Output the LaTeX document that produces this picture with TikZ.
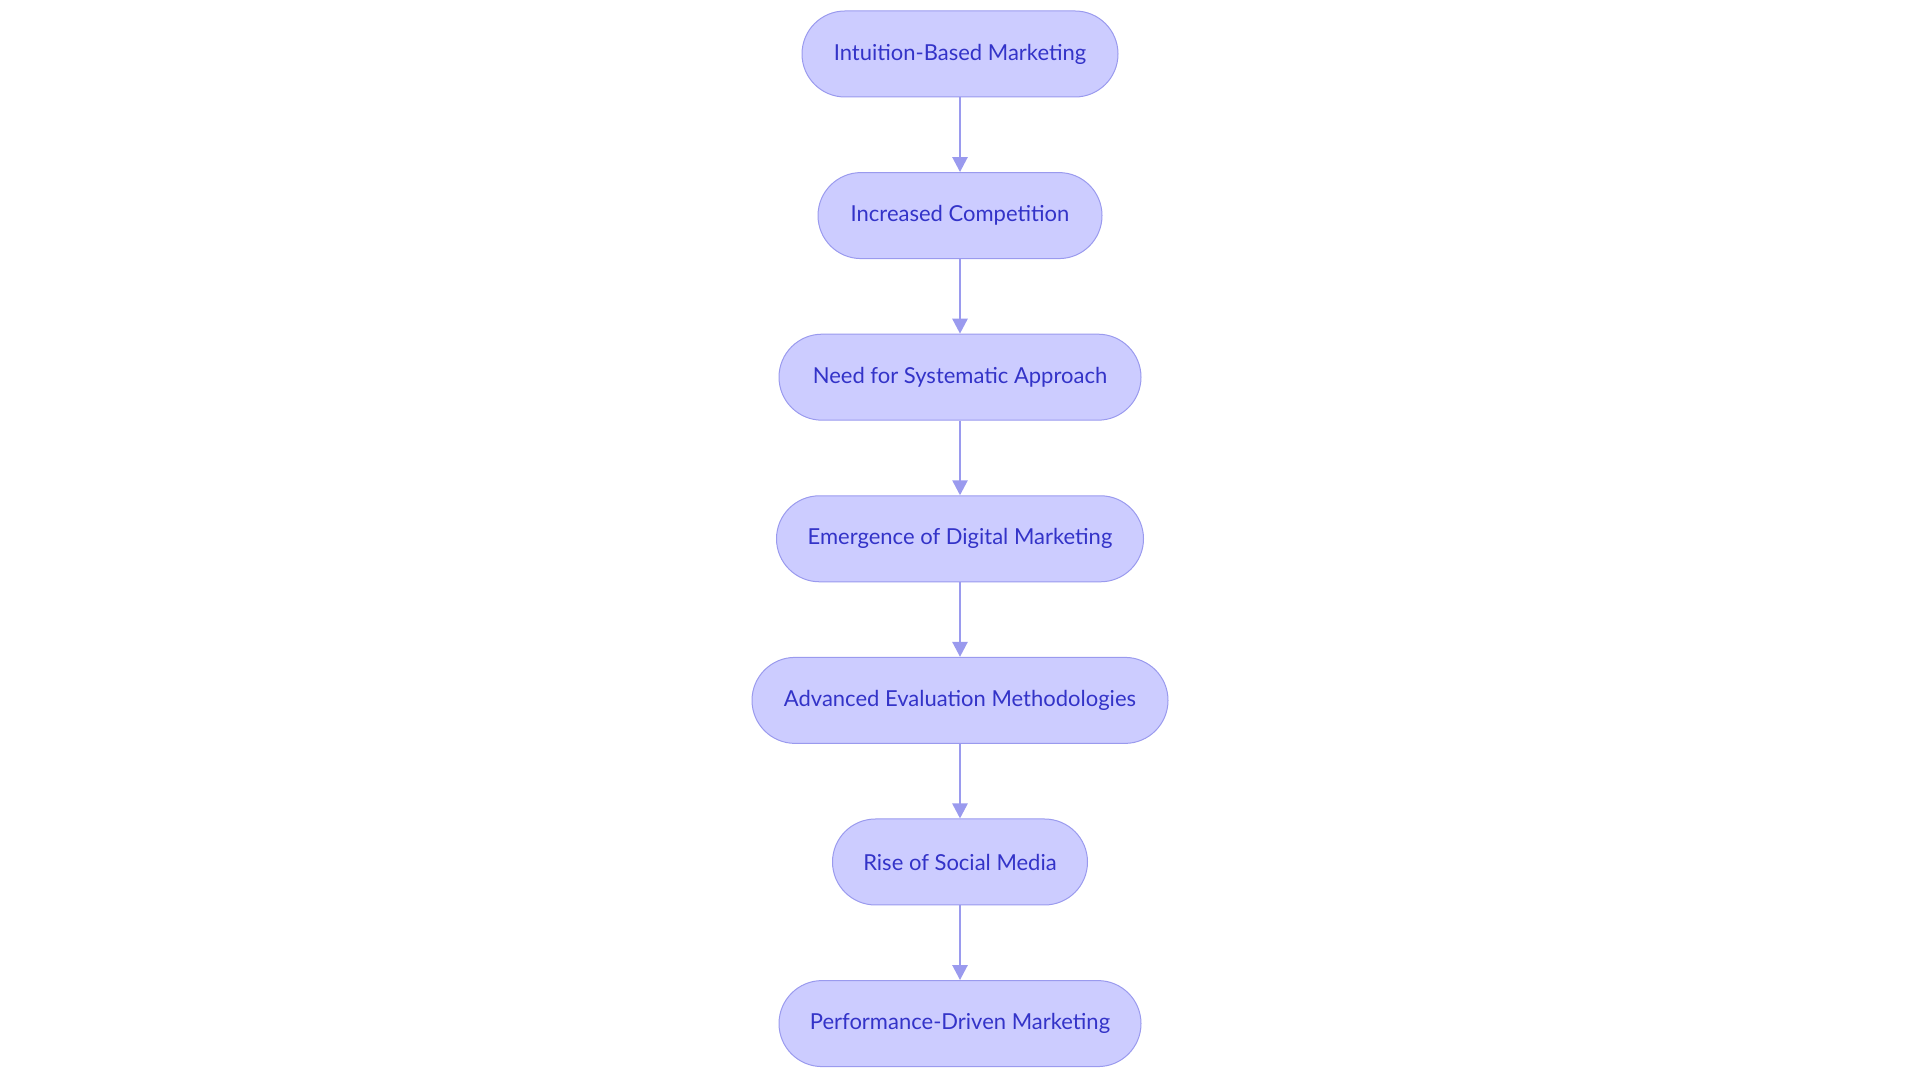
\documentclass[tikz,border=0pt]{standalone}
\usepackage{fontspec}
\setmainfont{Lato}
\usetikzlibrary{positioning,arrows.meta}
\definecolor{stepfill}{HTML}{CCCCFF}
\definecolor{stepline}{HTML}{9A9AEE}
\definecolor{steptext}{HTML}{3333C8}
\begin{document}
\begin{tikzpicture}[x=1pt,y=1pt,
    stage/.style={rounded corners=43pt,draw=stepline,fill=stepfill,line width=1pt,
      minimum height=86pt,text=steptext,font=\fontsize{22}{24}\selectfont},
    flow/.style={draw=stepline,line width=2.6pt,-{Triangle[length=15pt,width=15pt]}},
    node distance=74.6pt]
  \useasboundingbox (0,0) rectangle (1920,1083);
  \node[stage,minimum width=316pt] (intuition) at (960,1029) {Intuition-Based Marketing};
  \node[stage,minimum width=284pt,below=of intuition] (competition) {Increased Competition};
  \node[stage,minimum width=362pt,below=of competition] (systematic) {Need for Systematic Approach};
  \node[stage,minimum width=367pt,below=of systematic] (digital) {Emergence of Digital Marketing};
  \node[stage,minimum width=416pt,below=of digital] (evaluation) {Advanced Evaluation Methodologies};
  \node[stage,minimum width=255pt,below=of evaluation] (social) {Rise of Social Media};
  \node[stage,minimum width=362pt,below=of social] (performance) {Performance-Driven Marketing};
  % connectors
  \draw[flow] (intuition) -- (competition);
  \draw[flow] (competition) -- (systematic);
  \draw[flow] (systematic) -- (digital);
  \draw[flow] (digital) -- (evaluation);
  \draw[flow] (evaluation) -- (social);
  \draw[flow] (social) -- (performance);
\end{tikzpicture}
\end{document}
